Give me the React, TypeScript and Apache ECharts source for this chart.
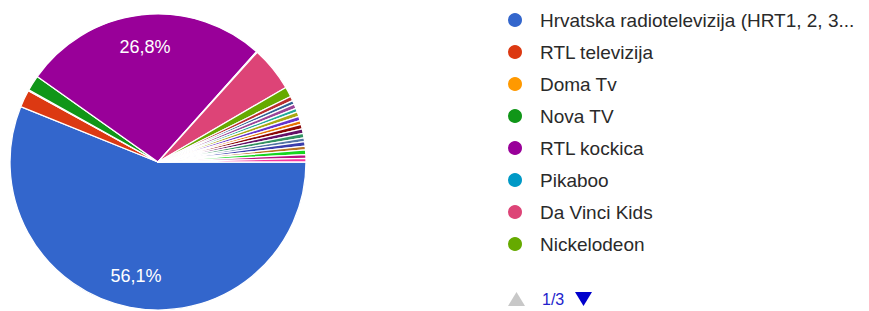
import React, { useEffect, useRef } from "react";
import * as echarts from "echarts";

const categories: string[] = [
  "Hrvatska radiotelevizija (HRT1, 2, 3, 4)",
  "RTL televizija",
  "Doma Tv",
  "Nova TV",
  "RTL kockica",
  "Pikaboo",
  "Da Vinci Kids",
  "Nickelodeon",
  "Cartoon Network",
  "Disney Channel",
  "Minimax",
  "Nick Jr.",
  "Boomerang",
  "Baby TV",
  "JimJam",
  "Duck TV",
  "Nat Geo Kids",
  "Disney Junior",
  "Z1",
  "CMC",
  "Laudato TV",
  "YouTube",
  "Netflix",
  "Ostalo",
];

const values: number[] = [
  56.1, 1.9, 0.1, 1.7, 26.8, 0.1, 4.9, 1.1,
  0.5, 0.4, 0.5, 0.4, 0.5, 0.5, 0.4, 0.5,
  0.5, 0.5, 0.4, 0.5, 0.4, 0.5, 0.4, 0.4,
];

const colors: string[] = [
  "#3366cc", "#dc3912", "#ff9900", "#109618", "#990099", "#0099c6", "#dd4477", "#66aa00",
  "#b82e2e", "#316395", "#994499", "#22aa99", "#aaaa11", "#6633cc", "#e67300", "#8b0707",
  "#651067", "#329262", "#5574a6", "#3b3eac", "#b77322", "#16d620", "#b91383", "#f4359e",
];

const PAGE_SIZE = 8;
const CURRENT_PAGE = 1;

export default function App() {
  const ref = useRef<HTMLDivElement>(null);
  useEffect(() => {
    if (!ref.current) return;
    const chart = echarts.init(ref.current, undefined, { renderer: "svg" });
    const data = categories.map((name, i) => ({ name, value: values[i] }));
    const totalPages = Math.ceil(categories.length / PAGE_SIZE);
    const font = "'Liberation Sans', Arial, sans-serif";
    chart.setOption({
      animation: false,
      color: colors,
      legend: {
        type: "plain",
        orient: "vertical",
        left: 506,
        top: 10.5,
        padding: 0,
        itemWidth: 16,
        itemHeight: 16,
        itemGap: 13,
        icon: "circle",
        data: categories.slice((CURRENT_PAGE - 1) * PAGE_SIZE, CURRENT_PAGE * PAGE_SIZE),
        textStyle: {
          fontFamily: font,
          fontSize: 19,
          color: "#2a2a2a",
          padding: [0, 0, 0, 12],
          width: 319,
          overflow: "truncate",
          ellipsis: "...",
        },
      },
      graphic: [
        {
          type: "polygon",
          shape: { points: [[508, 306], [525, 306], [516.5, 292]] },
          style: { fill: "#c8c8c8" },
        },
        {
          type: "text",
          x: 542,
          y: 299,
          style: {
            text: `${CURRENT_PAGE}/${totalPages}`,
            fontFamily: font,
            fontSize: 16,
            fill: "#2222cc",
            verticalAlign: "middle",
          },
        },
        {
          type: "polygon",
          shape: { points: [[575, 292], [592, 292], [583.5, 306]] },
          style: { fill: "#0000cc" },
        },
      ],
      series: [
        {
          type: "pie",
          center: [158, 162],
          radius: 148,
          startAngle: 0,
          clockwise: true,
          avoidLabelOverlap: false,
          label: { show: false },
          labelLine: { show: false },
          itemStyle: { borderColor: "#ffffff", borderWidth: 1.3 },
          emphasis: { disabled: true },
          data,
        },
        {
          type: "pie",
          center: [158, 162],
          radius: [78, 148],
          startAngle: 0,
          clockwise: true,
          silent: true,
          avoidLabelOverlap: false,
          itemStyle: { color: "rgba(0,0,0,0)" },
          labelLine: { show: false },
          label: {
            show: true,
            position: "inside",
            color: "#ffffff",
            fontFamily: font,
            fontSize: 18,
            formatter: (p: any) =>
              p.percent >= 10 ? `${p.percent.toFixed(1).replace(".", ",")}%` : "",
          },
          emphasis: { disabled: true },
          data,
        },
      ],
    });
    return () => chart.dispose();
  }, []);
  return (
    <div
      ref={ref}
      style={{ position: "fixed", left: 0, top: 0, width: 869, height: 311, background: "#fff" }}
    />
  );
}
